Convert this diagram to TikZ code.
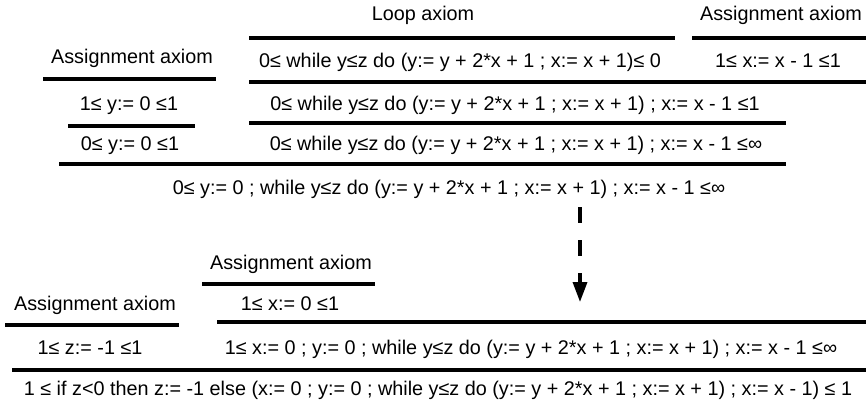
\documentclass[tikz,border=0pt]{standalone}
\usepackage{fontspec}
\setmainfont{Liberation Sans}
\usetikzlibrary{arrows.meta}
\begin{document}
\begin{tikzpicture}[x=1pt,y=-1pt,
  txt/.style={anchor=base,inner sep=0pt,font=\fontsize{19.8}{24}\selectfont},
  rulebar/.style={line width=3.2pt},
  derive/.style={line width=3.4pt,dash pattern=on 16pt off 17pt,-{Triangle[length=20pt,width=14pt]}}]
\useasboundingbox (0,0) rectangle (866,405);
% ---------- upper derivation ----------
\node[txt] (loop) at (423,20) {Loop axiom};
\node[txt] (asgR) at (781,20) {Assignment axiom};
\draw[rulebar] (249,38) -- (675,38);
\draw[rulebar] (692,38) -- (866,38);
\node[txt] (r1a) at (460,67) {0≤ while y≤z do (y:= y + 2*x + 1 ; x:= x + 1)≤ 0};
\node[txt] (r1b) at (778,67) {1≤ x:= x - 1 ≤1};
\node[txt] (asgL) at (132,63) {Assignment axiom};
\draw[rulebar] (43,79) -- (216,79);
\draw[rulebar] (249,82) -- (866,82);
\node[txt] (r2l) at (129,110) {1≤ y:= 0 ≤1};
\node[txt] (r2r) at (515,110) {0≤ while y≤z do (y:= y + 2*x + 1 ; x:= x + 1) ; x:= x - 1 ≤1};
\draw[rulebar] (68,126) -- (195,126);
\draw[rulebar] (249,123) -- (786,123);
\node[txt] (r3l) at (130,150) {0≤ y:= 0 ≤1};
\node[txt] (r3r) at (516,150) {0≤ while y≤z do (y:= y + 2*x + 1 ; x:= x + 1) ; x:= x - 1 ≤∞};
\draw[rulebar] (59,164) -- (786,164);
\node[txt] (top) at (449,194) {0≤ y:= 0 ; while y≤z do (y:= y + 2*x + 1 ; x:= x + 1) ; x:= x - 1 ≤∞};
% ---------- dashed arrow ----------
\coordinate (a1) at (580,207);
\coordinate (a2) at (580,302);
\draw[derive] (a1) -- (a2);
% ---------- lower derivation ----------
\node[txt] (asgM) at (291,269) {Assignment axiom};
\draw[rulebar] (202,284) -- (375,284);
\node[txt] (asgB) at (95,310) {Assignment axiom};
\node[txt] (x0) at (290,310) {1≤ x:= 0 ≤1};
\draw[rulebar] (5,325) -- (179,325);
\draw[rulebar] (217,322) -- (866,322);
\node[txt] (z1) at (90,354) {1≤ z:= -1 ≤1};
\node[txt] (seq) at (531,354) {1≤ x:= 0 ; y:= 0 ; while y≤z do (y:= y + 2*x + 1 ; x:= x + 1) ; x:= x - 1 ≤∞};
\draw[rulebar] (12,370) -- (866,370);
\node[txt] (fin) at (438,395) {1 ≤ if z<0 then z:= -1 else (x:= 0 ; y:= 0 ; while y≤z do (y:= y + 2*x + 1 ; x:= x + 1) ; x:= x - 1) ≤ 1};
\end{tikzpicture}
\end{document}
